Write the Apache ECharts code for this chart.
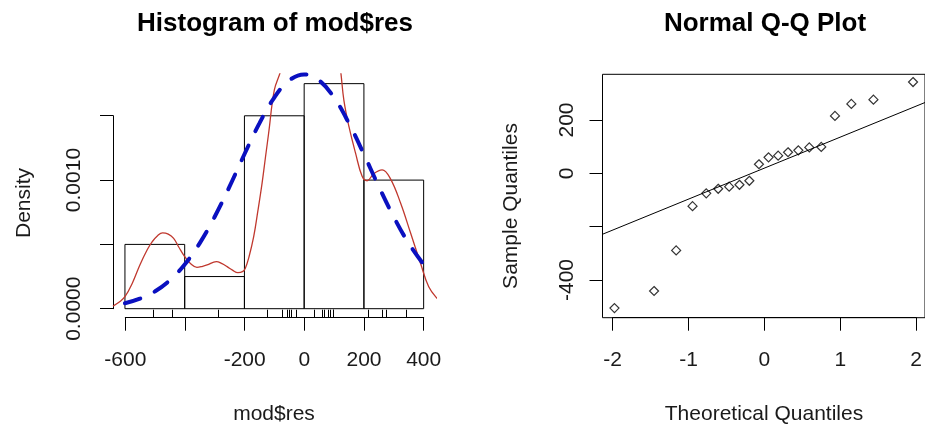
<!DOCTYPE html>
<html>
<head>
<meta charset="utf-8">
<script src="https://cdn.jsdelivr.net/npm/echarts@6/dist/echarts.min.js"></script>
<style>
  html, body { margin: 0; padding: 0; background: #fff; }
  #chart { width: 925px; height: 427px; }
</style>
</head>
<body>
<div id="chart"></div>
<script>
// residuals (read from the rug / Q-Q points)
const resid = [-505, -441, -289, -123, -75, -58, -50, -43, -28, 34, 60, 66, 79, 86, 97, 99, 215, 260, 276, 342];
// theoretical quantiles for the Q-Q plot
const theoQ = [-1.96, -1.44, -1.15, -0.935, -0.755, -0.598, -0.454, -0.319, -0.189, -0.063,
  0.063, 0.189, 0.319, 0.454, 0.598, 0.755, 0.935, 1.15, 1.44, 1.96];

// histogram
const breaks = [-600, -400, -200, 0, 200, 400];
const density = [0.0005, 0.00025, 0.0015, 0.00175, 0.001];

// kernel density (red)
const kdeX = [-640, -620, -600, -575, -550, -525, -509, -490, -474, -455, -437, -420, -400, -380, -359, -340, -325, -294,
  -275, -258, -240, -222, -205, -197, -185, -169, -155, -141, -130, -119, -100, -80, -50, -20, 10, 40, 70, 100, 122,
  133, 150, 172, 194, 211, 233, 261, 289, 323, 356, 390, 417, 445, 470];
const kdeY = [0.00002, 0.00005, 0.000093, 0.0002, 0.00034, 0.00046, 0.00052, 0.00057, 0.00059, 0.00058, 0.000547, 0.00048,
  0.000405, 0.00035, 0.000322, 0.00033, 0.00034, 0.000366, 0.00035, 0.000327, 0.0003, 0.00028, 0.00029, 0.000314,
  0.0004, 0.00056, 0.00076, 0.000975, 0.00117, 0.001364, 0.0017, 0.00184, 0.00212, 0.00225, 0.00235, 0.0025, 0.0025,
  0.00221, 0.00185, 0.00162, 0.001415, 0.00121, 0.00103, 0.000995, 0.00105, 0.00108, 0.00101, 0.00082, 0.00059,
  0.00035, 0.00017, 0.00008, 0.00003];

// normal density (blue dashed)
const normX = [-600, -550, -500, -450, -400, -350, -300, -250, -200, -150, -100, -50, 0,
  50, 100, 150, 200, 250, 300, 350, 400];
const normY = [0.0000427, 0.0000779, 0.000134, 0.000221, 0.000344, 0.000508, 0.000713, 0.000949, 0.001201, 0.001441,
  0.001642, 0.001775, 0.001822, 0.001775, 0.001642, 0.001441, 0.001201, 0.000949, 0.000713, 0.000508, 0.000344];

// qq reference line endpoints
const qqLineX = [-2.2, 2.2];
const qqLineY = [-238, 275];

// tick labels
const histXLabels = [-600, -200, 0, 200, 400];
const histYLabels = [0, 0.001];
const qqXLabels = [-2, -1, 0, 1, 2];
const qqYLabels = [-400, 0, 200];

const FONT = "'Liberation Sans', Arial, sans-serif";
const zip = (a, b) => a.map((v, i) => [v, b[i]]);

const chart = echarts.init(document.getElementById('chart'));

const axisStyle = { onZero: false, lineStyle: { color: '#000', width: 1 } };
const lbl = { color: '#1a1a1a', fontSize: 21, fontFamily: FONT };

function txt(x, y, text, opts) {
  return Object.assign({
    type: 'text', x: x, y: y,
    style: Object.assign({ text: text, x: 0, y: 0, align: 'center', verticalAlign: 'middle',
      fill: '#1a1a1a', font: '21px ' + FONT }, opts && opts.style)
  }, opts && opts.el);
}

const option = {
  animation: false,
  backgroundColor: '#fff',
  grid: [
    { left: 113, top: 74, width: 322.6, height: 243.7 },
    { left: 125.3, top: 74, width: 298.4, height: 243.7 },
    { left: 113, top: 115.7, width: 322.6, height: 193 },
    { left: 602.5, top: 74.3, width: 322.7, height: 243.4, show: true, borderColor: '#000', borderWidth: 1, backgroundColor: 'transparent' },
    { left: 612.7, top: 74.3, width: 304.6, height: 243.4 },
    { left: 602.5, top: 120, width: 322.7, height: 160 }
  ],
  xAxis: [
    { gridIndex: 0, type: 'value', min: -640, max: 440, splitLine: { show: false },
      axisLine: { show: false, onZero: false }, axisLabel: { show: false },
      axisTick: { show: true, inside: true, length: 8, lineStyle: { color: '#000' }, customValues: resid } },
    { gridIndex: 1, type: 'value', min: -600, max: 400, interval: 200, splitLine: { show: false },
      axisLine: axisStyle, axisTick: { length: 13, lineStyle: { color: '#000' } },
      axisLabel: Object.assign({ margin: 32, customValues: histXLabels }, lbl) },
    { gridIndex: 2, type: 'value', show: false, min: -640, max: 440 },
    { gridIndex: 3, type: 'value', show: false, min: -2.117, max: 2.117 },
    { gridIndex: 4, type: 'value', min: -2, max: 2, interval: 1, splitLine: { show: false },
      axisLine: axisStyle, axisTick: { length: 13, lineStyle: { color: '#000' } },
      axisLabel: Object.assign({ margin: 32, customValues: qqXLabels }, lbl) },
    { gridIndex: 5, type: 'value', show: false, min: -2.117, max: 2.117 }
  ],
  yAxis: [
    { gridIndex: 0, type: 'value', show: false, min: -0.00007, max: 0.001825 },
    { gridIndex: 1, type: 'value', show: false, min: 0, max: 1 },
    { gridIndex: 2, type: 'value', min: 0, max: 0.0015, interval: 0.0005, splitLine: { show: false },
      axisLine: axisStyle, axisTick: { length: 13, lineStyle: { color: '#000' } },
      axisLabel: Object.assign({ margin: 28, rotate: 90, customValues: histYLabels,
        formatter: v => Number(v).toFixed(4) }, lbl) },
    { gridIndex: 3, type: 'value', show: false, min: -541, max: 371 },
    { gridIndex: 4, type: 'value', show: false, min: 0, max: 1 },
    { gridIndex: 5, type: 'value', min: -400, max: 200, interval: 200, splitLine: { show: false },
      axisLine: axisStyle, axisTick: { length: 13, lineStyle: { color: '#000' } },
      axisLabel: Object.assign({ margin: 25, rotate: 90, customValues: qqYLabels }, lbl) }
  ],
  series: [
    {
      type: 'custom', xAxisIndex: 0, yAxisIndex: 0,
      data: density.map((d, i) => [breaks[i], breaks[i + 1], d]),
      encode: { x: [0, 1], y: 2 },
      renderItem: function (params, api) {
        const p0 = api.coord([api.value(0), api.value(2)]);
        const p1 = api.coord([api.value(1), 0]);
        return {
          type: 'rect',
          shape: { x: p0[0], y: p0[1], width: p1[0] - p0[0], height: p1[1] - p0[1] },
          style: { fill: 'none', stroke: '#000', lineWidth: 1 }
        };
      }
    },
    {
      type: 'line', xAxisIndex: 0, yAxisIndex: 0, data: zip(kdeX, kdeY),
      smooth: 0.4, symbol: 'none', clip: true,
      lineStyle: { color: '#c0382e', width: 1.3 }
    },
    {
      type: 'line', xAxisIndex: 0, yAxisIndex: 0, data: zip(normX, normY),
      smooth: 0.4, symbol: 'none', clip: true,
      lineStyle: { color: '#0a10c0', width: 4, type: [16, 16], cap: 'round' }
    },
    {
      type: 'line', xAxisIndex: 3, yAxisIndex: 3, data: zip(qqLineX, qqLineY),
      symbol: 'none', clip: true, lineStyle: { color: '#000', width: 1 }
    },
    {
      type: 'scatter', xAxisIndex: 3, yAxisIndex: 3, data: zip(theoQ, resid.slice().sort((a, b) => a - b)),
      symbol: 'path://M0,-1L1,0L0,1L-1,0Z', symbolSize: 9,
      itemStyle: { color: 'transparent', borderColor: '#000', borderWidth: 1.2 }
    }
  ],
  graphic: [
    txt(275, 23.5, 'Histogram of mod$res', { style: { font: 'bold 26px ' + FONT, fill: '#000' } }),
    txt(765, 23.5, 'Normal Q-Q Plot', { style: { font: 'bold 26px ' + FONT, fill: '#000' } }),
    txt(274, 414, 'mod$res'),
    txt(764, 414, 'Theoretical Quantiles'),
    txt(24, 203, 'Density', { el: { rotation: Math.PI / 2 } }),
    txt(511, 206, 'Sample Quantiles', { el: { rotation: Math.PI / 2 } })
  ]
};

chart.setOption(option);
</script>
</body>
</html>
